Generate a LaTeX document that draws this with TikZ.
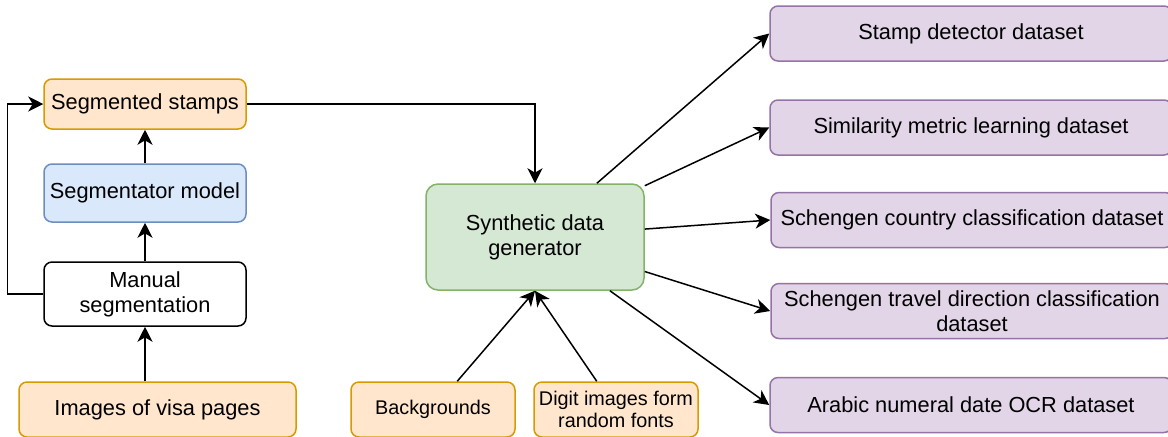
\documentclass[tikz,border=0pt]{standalone}
\usepackage{fontspec}
\setmainfont{Liberation Sans}
\usetikzlibrary{arrows.meta}
\definecolor{srcfill}{HTML}{FFE6CC}
\definecolor{srcdraw}{HTML}{D79B00}
\definecolor{modfill}{HTML}{DAE8FC}
\definecolor{moddraw}{HTML}{6C8EBF}
\definecolor{genfill}{HTML}{D5E8D4}
\definecolor{gendraw}{HTML}{82B366}
\definecolor{setfill}{HTML}{E1D5E7}
\definecolor{setdraw}{HTML}{9673A6}

\begin{document}
\begin{tikzpicture}[x=0.5pt,y=-0.5pt,
    font=\fontsize{10.9}{12.6}\selectfont,
    box/.style={draw, line width=0.75pt, rounded corners=4pt, align=center, inner sep=0pt},
    srcbox/.style={box, fill=srcfill, draw=srcdraw},
    modbox/.style={box, fill=modfill, draw=moddraw},
    genbox/.style={box, fill=genfill, draw=gendraw, rounded corners=6pt},
    setbox/.style={box, fill=setfill, draw=setdraw, minimum width=201pt, minimum height=27.5pt},
    small/.style={font=\fontsize{9.9}{11.2}\selectfont},
    arr/.style={line width=0.75pt, -{Stealth[length=7.5pt,width=7.5pt,inset=2.2pt]}}]
  \useasboundingbox[fill=white] (0,0) rectangle (1168,436);

  % left column
  \node[srcbox, minimum width=101pt, minimum height=25pt] (stamps) at (145,104) {Segmented stamps};
  \node[modbox, minimum width=101pt, minimum height=29pt] (segm) at (145,193) {Segmentator model};
  \node[box, fill=white, minimum width=101pt, minimum height=32pt] (manual) at (145,294) {Manual\\segmentation};
  \node[srcbox, minimum width=138.5pt, minimum height=27.5pt] (visa) at (157.5,409.5) {Images of visa pages};

  % generator and its inputs
  \node[genbox, minimum width=109pt, minimum height=53pt] (syn) at (535,237) {Synthetic data\\generator};
  \node[srcbox, small, minimum width=82pt, minimum height=27.5pt] (bg) at (433,409.5) {Backgrounds};
  \node[srcbox, small, minimum width=82pt, minimum height=27.5pt] (digits) at (616,409.5) {Digit images form\\random fonts};

  % datasets
  \node[setbox] (det) at (971,33.5) {Stamp detector dataset};
  \node[setbox] (sim) at (971,127.5) {Similarity metric learning dataset};
  \node[setbox] (cty) at (972,220) {Schengen country classification dataset};
  \node[setbox] (dir) at (972,311) {Schengen travel direction classification\\dataset};
  \node[setbox] (ocr) at (971,405) {Arabic numeral date OCR dataset};

  \draw[arr] (visa.north -| manual.south) -- (manual.south);
  \draw[arr] (manual) -- (segm);
  \draw[arr] (segm) -- (stamps);
  \draw[arr] (manual.west) -- ++(-36,0) |- (stamps.west);
  \draw[arr] (stamps.east) -| (syn.north);
  \draw[arr] (bg) -- (syn.south);
  \draw[arr] (digits) -- (syn.south);
  \foreach \t in {det,sim,cty,dir,ocr}
    \draw[arr] (syn) -- (\t.west);
\end{tikzpicture}
\end{document}
